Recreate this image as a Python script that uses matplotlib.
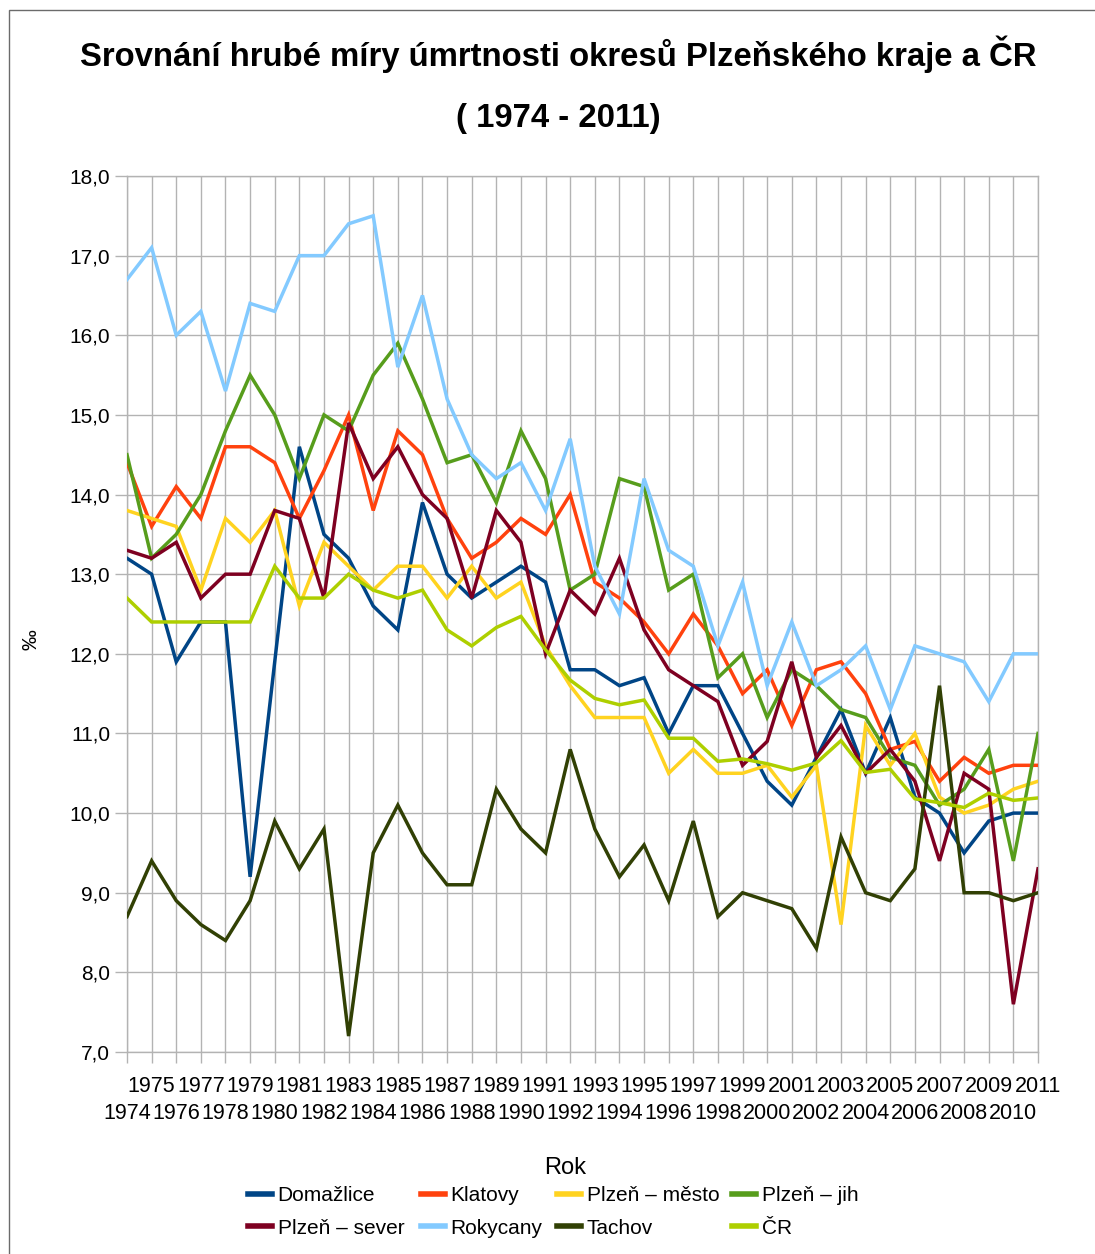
import matplotlib
matplotlib.use("Agg")
import matplotlib.pyplot as plt
from matplotlib.patches import Rectangle
from matplotlib.lines import Line2D
import numpy as np

plt.rcParams['font.family'] = ['Liberation Sans', 'DejaVu Sans']

years = list(range(1974, 2012))

domazlice = [13.2, 13.0, 11.9, 12.4, 12.4, 9.2, 11.9, 14.6, 13.5, 13.2, 12.6, 12.3, 13.9,
             13.0, 12.7, 12.9, 13.1, 12.9, 11.8, 11.8, 11.6, 11.7, 11.0, 11.6, 11.6,
             11.0, 10.4, 10.1, 10.7, 11.3, 10.5, 11.2, 10.2, 10.0, 9.5, 9.9, 10.0, 10.0]
klatovy = [14.4, 13.6, 14.1, 13.7, 14.6, 14.6, 14.4, 13.7, 14.3, 15.0, 13.8, 14.8, 14.5,
           13.7, 13.2, 13.4, 13.7, 13.5, 14.0, 12.9, 12.7, 12.4, 12.0, 12.5, 12.1,
           11.5, 11.8, 11.1, 11.8, 11.9, 11.5, 10.8, 10.9, 10.4, 10.7, 10.5, 10.6, 10.6]
plzen_mesto = [13.8, 13.7, 13.6, 12.8, 13.7, 13.4, 13.8, 12.6, 13.4, 13.1, 12.8, 13.1, 13.1,
               12.7, 13.1, 12.7, 12.9, 12.1, 11.6, 11.2, 11.2, 11.2, 10.5, 10.8, 10.5,
               10.5, 10.6, 10.2, 10.6, 8.6, 11.1, 10.6, 11.0, 10.2, 10.0, 10.1, 10.3, 10.4]
plzen_jih = [14.5, 13.2, 13.5, 14.0, 14.8, 15.5, 15.0, 14.2, 15.0, 14.8, 15.5, 15.9, 15.2,
             14.4, 14.5, 13.9, 14.8, 14.2, 12.8, 13.0, 14.2, 14.1, 12.8, 13.0, 11.7,
             12.0, 11.2, 11.8, 11.6, 11.3, 11.2, 10.7, 10.6, 10.1, 10.3, 10.8, 9.4, 11.0]
plzen_sever = [13.3, 13.2, 13.4, 12.7, 13.0, 13.0, 13.8, 13.7, 12.7, 14.9, 14.2, 14.6, 14.0,
               13.7, 12.7, 13.8, 13.4, 12.0, 12.8, 12.5, 13.2, 12.3, 11.8, 11.6, 11.4,
               10.6, 10.9, 11.9, 10.7, 11.1, 10.5, 10.8, 10.4, 9.4, 10.5, 10.3, 7.6, 9.3]
rokycany = [16.7, 17.1, 16.0, 16.3, 15.3, 16.4, 16.3, 17.0, 17.0, 17.4, 17.5, 15.6, 16.5,
            15.2, 14.5, 14.2, 14.4, 13.8, 14.7, 13.1, 12.5, 14.2, 13.3, 13.1, 12.1,
            12.9, 11.6, 12.4, 11.6, 11.8, 12.1, 11.3, 12.1, 12.0, 11.9, 11.4, 12.0, 12.0]
tachov = [8.7, 9.4, 8.9, 8.6, 8.4, 8.9, 9.9, 9.3, 9.8, 7.2, 9.5, 10.1, 9.5,
          9.1, 9.1, 10.3, 9.8, 9.5, 10.8, 9.8, 9.2, 9.6, 8.9, 9.9, 8.7,
          9.0, 8.9, 8.8, 8.3, 9.7, 9.0, 8.9, 9.3, 11.6, 9.0, 9.0, 8.9, 9.0]
cr = [12.7, 12.4, 12.4, 12.4, 12.4, 12.4, 13.1, 12.7, 12.7, 13.0, 12.8, 12.7, 12.8,
      12.3, 12.1, 12.33, 12.47, 12.05, 11.67, 11.44, 11.36, 11.42, 10.94, 10.94, 10.65,
      10.68, 10.62, 10.54, 10.63, 10.91, 10.51, 10.55, 10.18, 10.13, 10.07, 10.25, 10.16, 10.19]

series_names = ["Domažlice", "Klatovy", "Plzeň – město", "Plzeň – jih",
                "Plzeň – sever", "Rokycany", "Tachov", "ČR"]
series_values = [domazlice, klatovy, plzen_mesto, plzen_jih,
                 plzen_sever, rokycany, tachov, cr]
colors = ["#004586", "#ff420e", "#ffd320", "#579d1c",
          "#7e0021", "#83caff", "#314004", "#aecf00"]

yticks = [7, 8, 9, 10, 11, 12, 13, 14, 15, 16, 17, 18]
ytick_labels = ["7,0", "8,0", "9,0", "10,0", "11,0", "12,0", "13,0", "14,0",
                "15,0", "16,0", "17,0", "18,0"]

W, H = 1095, 1254
fig = plt.figure(figsize=(W / 100, H / 100), dpi=100)
fig.patch.set_facecolor("white")

ax = fig.add_axes([127 / W, 1 - 1052 / H, (1038 - 127) / W, (1052 - 176) / H])

grid_c = "#b3b3b3"
lw = 2.5
for name, vals, c in zip(series_names, series_values, colors):
    ax.plot(years, vals, color=c, lw=lw, solid_joinstyle="miter", label=name, zorder=3)

ax.set_xlim(years[0], years[-1])
ax.set_ylim(7, 18)
ax.set_yticks(yticks)
ax.set_yticklabels(ytick_labels)

even_years = [y for y in years if (y - years[0]) % 2 == 0]
odd_years = [y for y in years if (y - years[0]) % 2 == 1]
ax.set_xticks(even_years)
ax.set_xticklabels([str(y) for y in even_years])
ax.set_xticks(odd_years, minor=True)
ax.set_xticklabels([str(y) for y in odd_years], minor=True)

ax.tick_params(axis="x", which="major", length=8, width=1, color=grid_c,
               pad=29, labelsize=15.5)
ax.tick_params(axis="x", which="minor", length=8, width=1, color=grid_c,
               pad=9, labelsize=15.5)
ax.tick_params(axis="y", length=9, width=1, color=grid_c, pad=3, labelsize=15)

ax.grid(True, which="both", axis="x", color=grid_c, lw=1)
ax.grid(True, which="major", axis="y", color=grid_c, lw=1)
ax.set_axisbelow(True)
for s in ax.spines.values():
    s.set_color(grid_c)
    s.set_linewidth(1)

# titles
fig.text(558 / W, 1 - 54 / H, "Srovnání hrubé míry úmrtnosti okresů Plzeňského kraje a ČR",
         ha="center", va="center", fontsize=23.7, fontweight="bold")
fig.text(558 / W, 1 - 119 / H, "( 1974 - 2011)",
         ha="center", va="center", fontsize=23.7, fontweight="bold")
fig.text(31 / W, 1 - 640 / H, "‰", rotation=90, ha="center", va="center", fontsize=15)
fig.text(565 / W, 1 - 1168 / H, "Rok", ha="center", va="center", fontsize=17)

# legend: four columns of two entries
col_x = [248, 421, 557, 732]
for ci in range(4):
    idxs = [ci, ci + 4]
    handles = [Line2D([], [], color=colors[i], lw=4) for i in idxs]
    labels = [series_names[i] for i in idxs]
    fig.legend(handles, labels, loc="upper left",
               bbox_to_anchor=(col_x[ci] / W, 1 - 1186 / H),
               frameon=False, fontsize=15, handlelength=1.17, handletextpad=0.25,
               borderpad=0, borderaxespad=0, labelspacing=0.65)

# outer frame
fig.add_artist(Rectangle((9 / W, -0.05), 1.2, 1 - 10 / H + 0.05,
                         transform=fig.transFigure, fill=False,
                         edgecolor="#6b6b6b", lw=1))

fig.savefig("out.png", dpi=100, facecolor="white")
